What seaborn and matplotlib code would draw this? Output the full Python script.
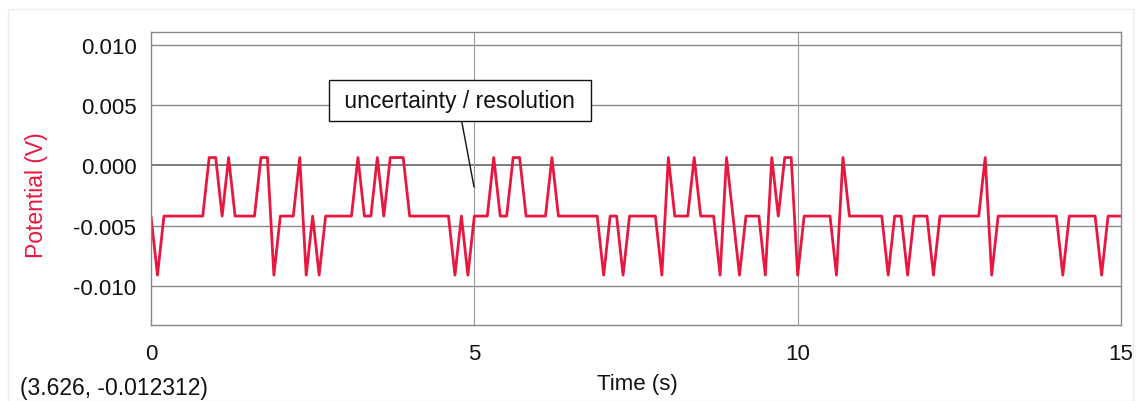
import numpy as np
import pandas as pd
import matplotlib.pyplot as plt
import seaborn as sns
from matplotlib.ticker import MultipleLocator
from matplotlib.patches import Rectangle

sns.set_style("white")
plt.rcParams["font.family"] = ["Liberation Sans", "DejaVu Sans"]

# quantised sensor levels (V)
H = 0.00066
M = -0.0042
L = -0.0091

# one reading every 0.1 s, 0 .. 15 s
potential = [
    M, L, M, M, M, M, M, M, M, H,
    H, M, H, M, M, M, M, H, H, L,
    M, M, M, H, L, M, L, M, M, M,
    M, M, H, M, M, H, M, H, H, H,
    M, M, M, M, M, M, M, L, M, L,
    M, M, M, H, M, M, H, H, M, M,
    M, M, H, M, M, M, M, M, M, M,
    L, M, M, L, M, M, M, M, M, L,
    H, M, M, M, H, M, M, M, L, H,
    M, L, M, M, M, L, H, M, H, H,
    L, M, M, M, M, M, L, H, M, M,
    M, M, M, M, L, M, M, L, M, M,
    M, L, M, M, M, M, M, M, M, H,
    L, M, M, M, M, M, M, M, M, M,
    M, L, M, M, M, M, M, L, M, M,
    M,
]
dt = 0.1
time = [round(i * dt, 1) for i in range(len(potential))]

df = pd.DataFrame({"Time (s)": time, "Potential (V)": potential})

red = "#E8173F"
fig = plt.figure(figsize=(11.41, 4.02), dpi=100)
ax = fig.add_axes([151 / 1141, 1 - 326 / 402, 970 / 1141, 293 / 402])

sns.lineplot(data=df, x="Time (s)", y="Potential (V)", color=red, lw=2.0, ax=ax)

ax.set_xlim(0, 15)
ax.set_ylim(-0.01324, 0.01108)
ax.xaxis.set_major_locator(MultipleLocator(5))
ax.xaxis.set_minor_locator(MultipleLocator(0.5))
ax.yaxis.set_major_locator(MultipleLocator(0.005))
ax.yaxis.set_minor_locator(MultipleLocator(0.001))
ax.yaxis.set_major_formatter(plt.FuncFormatter(lambda v, p: f"{v:.3f}"))

for y in [-0.010, -0.005, 0.005, 0.010]:
    ax.axhline(y, color="#8a8a8a", lw=1.0, zorder=0)
ax.axhline(0.0, color="#666666", lw=1.2, zorder=0)
for x in [5, 10]:
    ax.axvline(x, color="#999999", lw=0.8, zorder=0)

for s in ax.spines.values():
    s.set_color("#888888")
    s.set_linewidth(1.0)

ax.tick_params(axis="both", which="major", direction="out", length=10,
               width=0.8, color="#888888", labelsize=16, pad=0.5)
ax.tick_params(axis="both", which="minor", direction="out", length=3.5,
               width=0.8, color="#aaaaaa")
ax.tick_params(axis="x", which="major", pad=3)
ax.tick_params(labelcolor="#111111")

ax.set_xlabel("")
ax.set_ylabel("")
fig.text(37 / 1141, 1 - 195 / 402, "Potential (V)", color=red, fontsize=16.5,
         rotation=90, ha="center", va="center")
fig.text(637 / 1141, 1 - 385 / 402, "Time (s)", color="#111111", fontsize=16,
         ha="center", va="center")
fig.text(20 / 1141, 1 - 389 / 402, "(3.626, -0.012312)", color="#111111",
         fontsize=16.5, ha="left", va="center")

ax.annotate(" uncertainty / resolution ", xy=(4.995, -0.00178),
            xytext=(4.778, 0.00539), textcoords="data",
            ha="center", va="center", fontsize=16.5, color="#111111",
            bbox=dict(boxstyle="square,pad=0.4", fc="white", ec="#111111", lw=1.0),
            arrowprops=dict(arrowstyle="-", color="#111111", lw=1.0,
                            relpos=(0.5, 0.0), shrinkA=0, shrinkB=0))

fig.patches.append(Rectangle((8 / 1141, 0.0), 1 - 16 / 1141, 1 - 10 / 402,
                             transform=fig.transFigure, fill=False,
                             ec="#eeeeee", lw=1.0))

fig.savefig("out.png", dpi=100)
